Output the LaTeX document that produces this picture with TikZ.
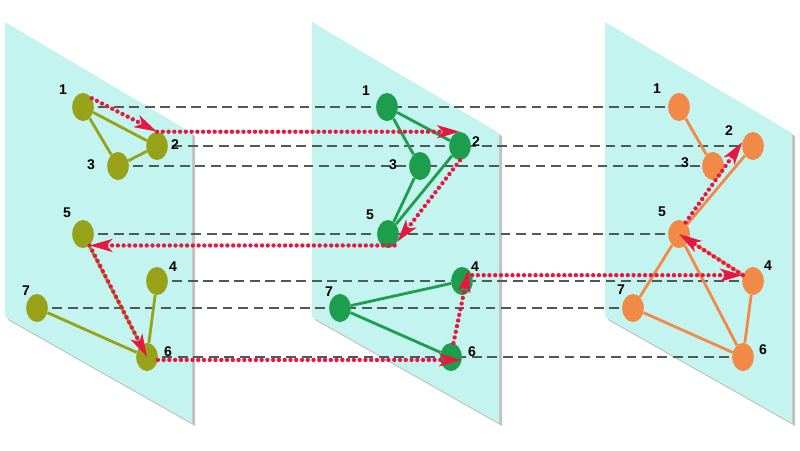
\documentclass[tikz,border=0pt]{standalone}
\usepackage{xcolor}
\usepackage{fontspec}
\setmainfont{Liberation Sans}
\usepackage{tikz}
\usetikzlibrary{shapes.geometric,arrows.meta}
\pgfdeclarelayer{back}
\pgfsetlayers{back,main}
\definecolor{planec}{RGB}{196,244,240}
\definecolor{olivec}{RGB}{152,162,24}
\definecolor{greenc}{RGB}{28,158,76}
\definecolor{orangec}{RGB}{240,138,70}
\definecolor{redc}{RGB}{230,24,64}
\definecolor{guidec}{RGB}{80,88,88}

\tikzset{
  vtx/.style={ellipse, minimum width=0.54cm, minimum height=0.7cm, inner sep=0pt},
  olv/.style={vtx, fill=olivec},
  grn/.style={vtx, fill=greenc},
  org/.style={vtx, fill=orangec},
  num/.style={font=\fontsize{10}{11}\selectfont\bfseries, inner sep=0pt},
  guide/.style={draw=guidec, line width=0.8pt, dash pattern=on 7pt off 4pt},
  walk/.style={draw=redc, line width=3.1pt, line cap=round, dash pattern=on 0pt off 4.1pt,
    -{Stealth[length=16pt,width=9pt,inset=4pt]}}
}

\begin{document}
\begin{tikzpicture}[x=0.025cm, y=-0.025cm]
\useasboundingbox (0,0) rectangle (800,450);
\begin{pgfonlayer}{back}
  \foreach \l in {5,312,605} {
    \fill[black!40, opacity=0.6] (\l+3,25) -- (\l+190,136) -- (\l+190,426) -- (\l+3,320) -- cycle;
    \fill[planec] (\l,22) -- (\l+187,133) -- (\l+187,423) -- (\l,317) -- cycle;
  }
\end{pgfonlayer}

% first plane
\node[olv] (a1) at (83,107) {};
\node[olv] (a2) at (157,146) {};
\node[olv] (a3) at (118,166) {};
\node[olv] (a5) at (83,234) {};
\node[olv] (a4) at (157,281) {};
\node[olv] (a7) at (37,308) {};
\node[olv] (a6) at (147,357) {};
\node[num] (a1t) at (63,90) {1};
\node[num] (a2t) at (175,145) {2};
\node[num] (a3t) at (91,165) {3};
\node[num] (a5t) at (67,213) {5};
\node[num] (a4t) at (173,267) {4};
\node[num] (a7t) at (26,291) {7};
\node[num] (a6t) at (168,352) {6};
\draw[olivec, line width=2pt] (a1) to (a2);
\draw[olivec, line width=2pt] (a1) to (a3);
\draw[olivec, line width=2pt] (a3) to (a2);
\draw[olivec, line width=2pt] (a5) to (a6);
\draw[olivec, line width=2pt] (a4) to (a6);
\draw[olivec, line width=2pt] (a7) to (a6);

% second plane
\node[grn] (b1) at (387,107) {};
\node[grn] (b2) at (460,146) {};
\node[grn] (b3) at (420,166) {};
\node[grn] (b5) at (388,234) {};
\node[grn] (b4) at (462,281) {};
\node[grn] (b7) at (340,308) {};
\node[grn] (b6) at (451,357) {};
\node[num] (b1t) at (366,91) {1};
\node[num] (b2t) at (476,142) {2};
\node[num] (b3t) at (393,165) {3};
\node[num] (b5t) at (370,215) {5};
\node[num] (b4t) at (475,267) {4};
\node[num] (b7t) at (329,292) {7};
\node[num] (b6t) at (472,352) {6};
\draw[greenc, line width=2pt] (b1) to (b2);
\draw[greenc, line width=2pt] (b1) to (b3);
\draw[greenc, line width=2pt] (b3) to (b5);
\draw[greenc, line width=2pt] (b2) to (b5);
\draw[greenc, line width=2pt] (b7) to (b4);
\draw[greenc, line width=2pt] (b7) to (b6);

% third plane
\node[org] (c1) at (679,107) {};
\node[org] (c2) at (753,146) {};
\node[org] (c3) at (713,166) {};
\node[org] (c5) at (679,234) {};
\node[org] (c4) at (753,281) {};
\node[org] (c7) at (633,308) {};
\node[org] (c6) at (743,357) {};
\node[num] (c1t) at (657,89) {1};
\node[num] (c2t) at (729,131) {2};
\node[num] (c3t) at (685,163) {3};
\node[num] (c5t) at (662,212) {5};
\node[num] (c4t) at (768,266) {4};
\node[num] (c7t) at (621,290) {7};
\node[num] (c6t) at (763,350) {6};
\draw[orangec, line width=2pt] (c1) to (c3);
\draw[orangec, line width=2pt] (c5) to (c2);
\draw[orangec, line width=2pt] (c5) to (c7);
\draw[orangec, line width=2pt] (c5) to (c6);
\draw[orangec, line width=2pt] (c5) to (c4);
\draw[orangec, line width=2pt] (c4) to (c6);
\draw[orangec, line width=2pt] (c7) to (c6);

% guide lines behind the nodes
\begin{pgfonlayer}{back}
  \foreach \n in {1,...,7}
    \draw[guide] (a\n.center) -- (c\n.center);
\end{pgfonlayer}

% the walk
\draw[walk] (a1.45) -- (a2.north);
\draw[walk] (a2.north) -- (b2.north);
\draw[walk] (b2.south) -- (b5.-40);
\draw[walk] (b5.-60) -- (a5.-60);
\draw[walk] (a5.-60) -- (a6.center);
\draw[walk] (a6.-15) -- (b6.-15);
\draw[walk] (b6.80) -- (b4.60);
\draw[walk] (b4.30) -- (c4.150);
\draw[walk] (c4.150) -- (c5.center);
\draw[walk] (c5.60) -- (c2.160);
\end{tikzpicture}
\end{document}
